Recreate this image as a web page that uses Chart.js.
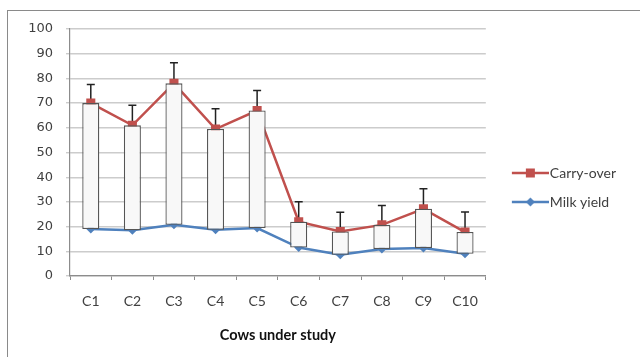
<!DOCTYPE html>
<html><head><meta charset="utf-8">
<script src="https://cdn.jsdelivr.net/npm/chart.js@4/dist/chart.umd.min.js"></script>
<style>
html,body{margin:0;padding:0;background:#fff;overflow:hidden;}
#wrap{position:relative;width:640px;height:357px;overflow:hidden;}
#frame{position:absolute;left:7px;top:10px;width:700px;height:400px;border:1.5px solid #8a8a8a;box-sizing:border-box;}
canvas{position:absolute;left:0;top:0;}
</style></head><body>
<div id="wrap"><div id="frame"></div><canvas id="c" width="640" height="357"></canvas></div>
<script>
const categories = ['C1','C2','C3','C4','C5','C6','C7','C8','C9','C10'];
const carryOver = [70, 61, 78, 59.5, 67, 22, 18, 20.7, 27.2, 17.8];
const milkYield = [19, 18.5, 20.7, 18.7, 19.4, 11.5, 8.6, 10.9, 11.3, 9.0];
const carryOverError = [7.5, 8.1, 8.3, 8.2, 8.1, 8.1, 7.8, 7.8, 8.1, 8.1];
const yTicks = [0, 10, 20, 30, 40, 50, 60, 70, 80, 90, 100];
const seriesNames = ['Carry-over', 'Milk yield'];
const xTitle = 'Cows under study';

const RED = '#C0504D', BLUE = '#4F81BD';

function legendImage(color, style) {
  const c = document.createElement('canvas');
  c.width = 54; c.height = 12;
  const g = c.getContext('2d');
  g.strokeStyle = color; g.lineWidth = 2.5;
  g.beginPath(); g.moveTo(17, 6); g.lineTo(54, 6); g.stroke();
  g.fillStyle = color;
  const cx = 35.5, cy = 6;
  if (style === 'rect') {
    g.fillRect(cx - 4.5, cy - 4.5, 9, 9);
  } else {
    g.beginPath(); g.moveTo(cx, cy - 4.5); g.lineTo(cx + 4.5, cy); g.lineTo(cx, cy + 4.5); g.lineTo(cx - 4.5, cy); g.closePath(); g.fill();
  }
  return c;
}
const legendImgs = [legendImage(RED, 'rect'), legendImage(BLUE, 'diamond')];

const errorBars = {
  id: 'errorBars',
  beforeDatasetsDraw(chart) {
    const {ctx, scales: {x, y}} = chart;
    ctx.save();
    ctx.strokeStyle = '#222';
    ctx.lineWidth = 1.5;
    carryOver.forEach((v, i) => {
      const px = x.getPixelForValue(i);
      const y0 = y.getPixelForValue(v);
      const y1 = y.getPixelForValue(v + carryOverError[i]);
      ctx.beginPath();
      ctx.moveTo(px, y0); ctx.lineTo(px, y1);
      ctx.moveTo(px - 4, y1); ctx.lineTo(px + 4, y1);
      ctx.stroke();
    });
    ctx.restore();
  }
};

new Chart(document.getElementById('c'), {
  type: 'bar',
  data: {
    labels: categories,
    datasets: [
      {
        type: 'line', label: seriesNames[0], data: carryOver,
        borderColor: RED, backgroundColor: RED, borderWidth: 2.5,
        pointStyle: 'rect', pointRadius: 6.4, pointBorderWidth: 0,
        pointBackgroundColor: RED, tension: 0, order: 1
      },
      {
        type: 'line', label: seriesNames[1], data: milkYield,
        borderColor: BLUE, backgroundColor: BLUE, borderWidth: 2.5,
        pointStyle: 'rectRot', pointRadius: 4.5, pointBorderWidth: 0,
        pointBackgroundColor: BLUE, tension: 0, order: 1
      },
      {
        type: 'bar', label: 'updown',
        data: categories.map((_, i) => [milkYield[i], carryOver[i]]),
        backgroundColor: '#f8f8f8', borderColor: '#555', borderWidth: 1.3,
        borderSkipped: false, barPercentage: 0.41, categoryPercentage: 1, order: 0
      }
    ]
  },
  options: {
    responsive: false, animation: false, devicePixelRatio: 1,
    layout: { padding: { top: 29, left: 0, right: 14, bottom: 0 } },
    plugins: {
      tooltip: { enabled: false },
      legend: {
        position: 'right', align: 'start',
        title: { display: true, text: '', font: { size: 10 }, padding: { top: 110, bottom: 0 } },
        labels: {
          usePointStyle: true, pointStyleWidth: 42, padding: 15,
          font: { family: 'Lato', size: 14 }, color: '#404040',
          filter: item => item.datasetIndex < 2,
          generateLabels(chart) {
            const items = Chart.defaults.plugins.legend.labels.generateLabels(chart);
            items.forEach(it => { if (it.datasetIndex < 2) it.pointStyle = legendImgs[it.datasetIndex]; });
            return items;
          }
        }
      }
    },
    scales: {
      x: {
        type: 'category', offset: true,
        grid: { display: true, drawOnChartArea: false, drawTicks: true, tickLength: 4, color: '#8c8c8c', offset: true },
        border: { color: '#8c8c8c', width: 1.2 },
        ticks: { font: { family: 'Lato', size: 14 }, color: '#404040', padding: 13, maxRotation: 0 },
        title: { display: true, text: xTitle, font: { family: 'Lato', size: 14.5, weight: 'bold' }, color: '#111', padding: { top: 0, bottom: 13 } },
        afterFit(s) { s.height = 81; }
      },
      y: {
        min: 0, max: 100,
        afterBuildTicks(s) { s.ticks = yTicks.map(v => ({ value: v })); },
        grid: { color: '#cccccc', lineWidth: 1.4, tickLength: 4, drawTicks: true },
        border: { color: '#8c8c8c', width: 1.2 },
        ticks: { font: { family: 'DejaVu Sans', size: 13 }, color: '#404040', padding: 13 },
        afterFit(s) { s.width = 70; }
      }
    }
  },
  plugins: [errorBars]
});
</script>
</body></html>
